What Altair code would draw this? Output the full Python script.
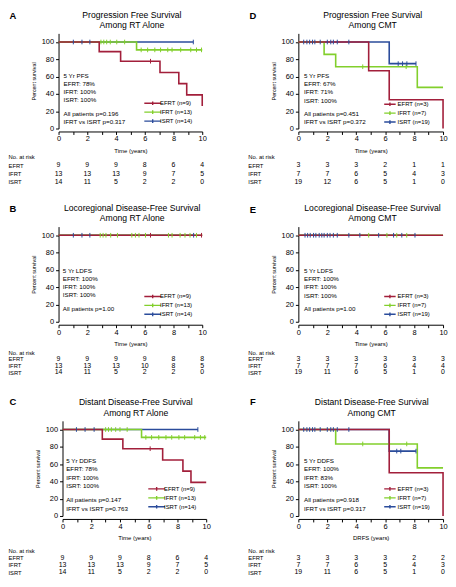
import altair as alt
import pandas as pd

RED, GREEN, BLUE = "#a21f3b", "#82cf2c", "#2b4c9b"
SANS = "Liberation Sans, Arial, sans-serif"

GROUPS = ["EFRT", "IFRT", "ISRT"]
RISK_TIMES = [0, 2, 4, 6, 8, 10]
ROWS = ["No. at risk", "EFRT", "IFRT", "ISRT"]
LEFT_LABELS = ["EFRT (n=9)", "IFRT (n=13)", "ISRT (n=14)"]
RIGHT_LABELS = ["EFRT (n=3)", "IFRT (n=7)", "ISRT (n=19)"]

# ---------------- Panel A: PFS, RT alone ----------------
A_EFRT_T = [0, 2.83, 4.32, 7.06, 8.37, 8.92, 10.0]
A_EFRT_S = [100, 88.9, 77.8, 64.8, 51.9, 38.9, 25.9]
A_IFRT_T = [0, 5.43, 10.0]
A_IFRT_S = [100, 90.9, 90.9]
A_ISRT_T = [0, 9.38]
A_ISRT_S = [100, 100]
A_EFRT_CENS = [6.4]
A_IFRT_CENS = [2.95, 3.15, 3.35, 3.6, 4.05, 4.6, 5.75, 6.2, 6.7, 7.1, 7.6, 7.9, 8.5, 9.2, 9.6, 9.95]
A_ISRT_CENS = [1.03, 1.63, 2.18, 9.38]
A_RISK = {"EFRT": [9, 9, 9, 8, 6, 4], "IFRT": [13, 13, 13, 9, 7, 5], "ISRT": [14, 11, 5, 2, 2, 0]}
A_TEXT = ["5 Yr PFS", "EFRT: 78%", "IFRT: 100%", "ISRT: 100%"]
A_P = ["All patients p=0.196", "IFRT vs ISRT p=0.317"]

# ---------------- Panel B: LDFS, RT alone ----------------
B_EFRT_T = [0, 10.0]
B_EFRT_S = [100, 100]
B_IFRT_T = [0, 10.0]
B_IFRT_S = [100, 100]
B_ISRT_T = [0, 9.4]
B_ISRT_S = [100, 100]
B_EFRT_CENS = [6.4, 9.95]
B_IFRT_CENS = [2.9, 3.1, 3.3, 3.63, 4.1, 5.1, 5.35, 5.6, 6.05, 7.65, 7.9, 8.46, 8.8, 9.15, 9.6]
B_ISRT_CENS = [1.03, 1.63, 2.18, 9.4]
B_RISK = {"EFRT": [9, 9, 9, 9, 8, 8], "IFRT": [13, 13, 13, 10, 8, 5], "ISRT": [14, 11, 5, 2, 2, 0]}
B_TEXT = ["5 Yr LDFS", "EFRT: 100%", "IFRT: 100%", "ISRT: 100%"]
B_P = ["All patients p=1.00"]

# ---------------- Panel C: DDFS, RT alone ----------------
C_EFRT_T = [0, 2.77, 4.2, 6.97, 8.38, 8.94, 10.0]
C_EFRT_S = [100, 88.9, 77.8, 64.8, 51.9, 38.9, 38.9]
C_IFRT_T = [0, 5.5, 10.0]
C_IFRT_S = [100, 90.9, 90.9]
C_ISRT_T = [0, 9.42]
C_ISRT_S = [100, 100]
C_EFRT_CENS = [6.1]
C_IFRT_CENS = [3.0, 3.2, 3.4, 3.7, 4.0, 4.5, 5.8, 6.2, 6.7, 7.2, 7.6, 8.1, 8.5, 9.2, 9.6, 9.9]
C_ISRT_CENS = [0.97, 1.57, 2.2, 9.42]
C_RISK = {"EFRT": [9, 9, 9, 8, 6, 4], "IFRT": [13, 13, 13, 9, 7, 5], "ISRT": [14, 11, 5, 2, 2, 0]}
C_TEXT = ["5 Yr DDFS", "EFRT: 78%", "IFRT: 100%", "ISRT: 100%"]
C_P = ["All patients p=0.147", "IFRT vs ISRT p=0.763"]

# ---------------- Panel D: PFS, CMT ----------------
D_EFRT_T = [0, 4.86, 6.28, 10.0]
D_EFRT_S = [100, 66.7, 33.3, 0]
D_IFRT_T = [0, 1.78, 2.58, 8.22, 10.0]
D_IFRT_S = [100, 85.7, 71.4, 47.6, 47.6]
D_ISRT_T = [0, 6.28, 8.13]
D_ISRT_S = [100, 75, 75]
D_EFRT_CENS = []
D_IFRT_CENS = [4.45, 7.45]
D_ISRT_CENS = [0.37, 0.59, 0.78, 0.98, 1.14, 1.51, 2.0, 2.24, 2.42, 2.69, 3.49, 6.9, 7.2, 7.5, 8.13]
D_RISK = {"EFRT": [3, 3, 3, 2, 1, 1], "IFRT": [7, 7, 6, 5, 4, 3], "ISRT": [19, 12, 6, 5, 1, 0]}
D_TEXT = ["5 Yr PFS", "EFRT: 67%", "IFRT: 71%", "ISRT: 100%"]
D_P = ["All patients p=0.451", "IFRT vs ISRT p=0.372"]

# ---------------- Panel E: LDFS, CMT ----------------
E_EFRT_T = [0, 10.0]
E_EFRT_S = [100, 100]
E_IFRT_T = [0, 10.0]
E_IFRT_S = [100, 100]
E_ISRT_T = [0, 8.1]
E_ISRT_S = [100, 100]
E_EFRT_CENS = []
E_IFRT_CENS = [4.86, 6.12, 6.8, 7.49]
E_ISRT_CENS = [0.46, 0.64, 0.82, 1.05, 1.21, 1.44, 1.62, 1.78, 2.0, 2.19, 2.42, 2.69, 3.49, 4.25, 5.55, 6.58, 7.15, 8.06]
E_RISK = {"EFRT": [3, 3, 3, 3, 3, 3], "IFRT": [7, 7, 7, 6, 4, 4], "ISRT": [19, 11, 6, 5, 1, 0]}
E_TEXT = ["5 Yr LDFS", "EFRT: 100%", "IFRT: 100%", "ISRT: 100%"]
E_P = ["All patients p=1.00"]

# ---------------- Panel F: DDFS, CMT ----------------
F_EFRT_T = [0, 6.28, 10.0]
F_EFRT_S = [100, 50, 0]
F_IFRT_T = [0, 2.58, 8.22, 10.0]
F_IFRT_S = [100, 83.3, 55.6, 55.6]
F_ISRT_T = [0, 6.28, 8.13]
F_ISRT_S = [100, 75, 75]
F_EFRT_CENS = []
F_IFRT_CENS = [4.45, 7.49]
F_ISRT_CENS = [0.37, 0.59, 0.78, 0.98, 1.14, 1.51, 2.0, 2.24, 2.42, 2.69, 3.49, 6.8, 7.08, 8.13]
F_RISK = {"EFRT": [3, 3, 3, 3, 2, 2], "IFRT": [7, 7, 6, 5, 4, 3], "ISRT": [19, 11, 6, 5, 1, 0]}
F_TEXT = ["5 Yr DDFS", "EFRT: 100%", "IFRT: 83%", "ISRT: 100%"]
F_P = ["All patients p=0.918", "IFRT vs ISRT p=0.317"]

PANELS = {
    "A": dict(title=["Progression Free Survival", "Among RT Alone"], xtitle="Time (years)",
              curves={"EFRT": (A_EFRT_T, A_EFRT_S), "IFRT": (A_IFRT_T, A_IFRT_S), "ISRT": (A_ISRT_T, A_ISRT_S)},
              cens={"EFRT": A_EFRT_CENS, "IFRT": A_IFRT_CENS, "ISRT": A_ISRT_CENS},
              risk=A_RISK, text=A_TEXT, p=A_P),
    "B": dict(title=["Locoregional Disease-Free Survival", "Among RT Alone"], xtitle="Time (years)",
              curves={"EFRT": (B_EFRT_T, B_EFRT_S), "IFRT": (B_IFRT_T, B_IFRT_S), "ISRT": (B_ISRT_T, B_ISRT_S)},
              cens={"EFRT": B_EFRT_CENS, "IFRT": B_IFRT_CENS, "ISRT": B_ISRT_CENS},
              risk=B_RISK, text=B_TEXT, p=B_P),
    "C": dict(title=["Distant Disease-Free Survival", "Among RT Alone"], xtitle="Time (years)",
              curves={"EFRT": (C_EFRT_T, C_EFRT_S), "IFRT": (C_IFRT_T, C_IFRT_S), "ISRT": (C_ISRT_T, C_ISRT_S)},
              cens={"EFRT": C_EFRT_CENS, "IFRT": C_IFRT_CENS, "ISRT": C_ISRT_CENS},
              risk=C_RISK, text=C_TEXT, p=C_P),
    "D": dict(title=["Progression Free Survival", "Among CMT"], xtitle="Time (years)",
              curves={"EFRT": (D_EFRT_T, D_EFRT_S), "IFRT": (D_IFRT_T, D_IFRT_S), "ISRT": (D_ISRT_T, D_ISRT_S)},
              cens={"EFRT": D_EFRT_CENS, "IFRT": D_IFRT_CENS, "ISRT": D_ISRT_CENS},
              risk=D_RISK, text=D_TEXT, p=D_P),
    "E": dict(title=["Locoregional Disease-Free Survival", "Among CMT"], xtitle="Time (years)",
              curves={"EFRT": (E_EFRT_T, E_EFRT_S), "IFRT": (E_IFRT_T, E_IFRT_S), "ISRT": (E_ISRT_T, E_ISRT_S)},
              cens={"EFRT": E_EFRT_CENS, "IFRT": E_IFRT_CENS, "ISRT": E_ISRT_CENS},
              risk=E_RISK, text=E_TEXT, p=E_P),
    "F": dict(title=["Distant Disease-Free Survival", "Among CMT"], xtitle="DRFS (years)",
              curves={"EFRT": (F_EFRT_T, F_EFRT_S), "IFRT": (F_IFRT_T, F_IFRT_S), "ISRT": (F_ISRT_T, F_ISRT_S)},
              cens={"EFRT": F_EFRT_CENS, "IFRT": F_IFRT_CENS, "ISRT": F_ISRT_CENS},
              risk=F_RISK, text=F_TEXT, p=F_P),
}

# layout (pixels, relative to each plot area's top-left corner)
LP = "M-2.74,0H2.74M0,-0.6V0.6"   # legend symbol, left column (long)
RP = "M-1.87,0H1.87M0,-0.6V0.6"   # legend symbol, right column (short)
LAYOUT = {
    "A": dict(xoff=0, W=149, PW=145, tc=74.0, ty=-18.7, letter=(-46, -17.3),
              txt=(5, 42.7, 8.2), pt=(5, 81.4, 8.0), leg=(91.0, 66.5), lo=3.4, path=LP),
    "B": dict(xoff=0, W=149, PW=145, tc=74.3, ty=-18.9, letter=(-46, -17.3),
              txt=(4.3, 44.4, 8.3), pt=(4.3, 82.7, 8.0), leg=(91.0, 66.5), lo=3.4, path=LP),
    "C": dict(xoff=4, W=149, PW=145, tc=78.0, ty=-18.7, letter=(-46, -18.7),
              txt=(7.7, 40.3, 8.5), pt=(7.7, 80.3, 8.3), leg=(95.0, 64.7), lo=3.4, path=LP),
    "D": dict(xoff=0, W=146, PW=146, tc=75.0, ty=-18.7, letter=(-46, -17.3),
              txt=(5.7, 42.7, 8.4), pt=(5.7, 81.4, 8.0), leg=(88.4, 67.5), lo=3.7, path=RP),
    "E": dict(xoff=0, W=146, PW=146, tc=74.8, ty=-18.9, letter=(-46, -16.6),
              txt=(5.7, 44.4, 8.4), pt=(5.7, 82.7, 8.0), leg=(88.4, 66.5), lo=3.7, path=RP),
    "F": dict(xoff=0, W=146, PW=146, tc=74.0, ty=-18.7, letter=(-46, -18.7),
              txt=(5.7, 40.3, 8.5), pt=(5.7, 80.3, 8.3), leg=(88.4, 64.7), lo=3.7, path=RP),
}
KM_H = 96
RISK_ROWS = {1: (28.7, 54.0, 98.6), 2: (30.6, 51.0, 99.7), 3: (35.0, 56.6, 62)}


def step_value(ts, ss, t):
    v = ss[0]
    for ti, si in zip(ts, ss):
        if ti <= t + 1e-9:
            v = si
    return v


def km_chart(key, labels):
    P, L = PANELS[key], LAYOUT[key]
    lab = dict(zip(GROUPS, labels))
    xs = alt.Scale(domain=[0, 10], range=[L["xoff"], L["xoff"] + L["PW"]], nice=False, zero=False)
    ys = alt.Scale(domain=[0, 110], nice=False)
    cs = alt.Scale(domain=labels, range=[RED, GREEN, BLUE])
    legend = alt.Legend(title=None, orient="none", legendX=L["leg"][0], legendY=L["leg"][1],
                        symbolType=L["path"], symbolSize=38, symbolStrokeWidth=1.4,
                        labelFont=SANS, labelFontSize=6.0, labelColor="black",
                        labelOffset=L["lo"], rowPadding=-1.7, padding=0)
    xax = alt.Axis(values=list(range(11)), labelExpr="datum.value % 2 === 0 ? datum.label : ''",
                   tickSize=3, labelPadding=0.5, offset=3, labelFont=SANS, labelFontSize=7.5,
                   labelOverlap=False, labelFlush=False, title=P["xtitle"], titleFont=SANS,
                   titleFontSize=6.0, titleFontWeight="normal", titlePadding=5, grid=False)
    yax = alt.Axis(values=[0, 20, 40, 60, 80, 100], tickSize=3, labelPadding=2, labelFont=SANS,
                   labelFontSize=7.5, title="Percent survival", titleFont=SANS, titleFontSize=5.4,
                   titleFontWeight="normal", titlePadding=5, offset=-L["xoff"], grid=False)
    X = alt.X("t:Q", scale=xs, axis=xax)
    Y = alt.Y("s:Q", scale=ys, axis=yax)
    C = alt.Color("label:N", scale=cs, legend=legend)
    layers = []
    for g in ["ISRT", "IFRT", "EFRT"]:
        ts, ss = P["curves"][g]
        df = pd.DataFrame({"t": ts, "s": ss, "label": lab[g]})
        layers.append(alt.Chart(df).mark_line(interpolate="step-after", strokeWidth=1.6)
                      .encode(x=X, y=Y, color=C))
    rows = []
    for g in GROUPS:
        ts, ss = P["curves"][g]
        for t in P["cens"][g]:
            rows.append({"t": t, "s": step_value(ts, ss, t), "label": lab[g]})
    cdf = pd.DataFrame(rows, columns=["t", "s", "label"])
    layers.append(alt.Chart(cdf).mark_point(shape="M0,-1V1", size=22, filled=False, strokeWidth=1, opacity=1)
                  .encode(x=X, y=Y, color=C))
    one = pd.DataFrame({"k": [0]})
    tx, ty, tl = L["txt"]
    layers.append(alt.Chart(one).mark_text(align="left", baseline="middle", font=SANS, fontSize=6.3,
                                           lineHeight=tl, color="black")
                  .encode(x=alt.value(tx), y=alt.value(ty), text=alt.value(P["text"])))
    px, py, pl = L["pt"]
    layers.append(alt.Chart(one).mark_text(align="left", baseline="middle", font=SANS, fontSize=6.3,
                                           lineHeight=pl, color="black")
                  .encode(x=alt.value(px), y=alt.value(py), text=alt.value(P["p"])))
    lx, ly = L["letter"]
    layers.append(alt.Chart(one).mark_text(align="center", baseline="middle", font=SANS, fontSize=9.5,
                                           fontWeight="bold", color="black")
                  .encode(x=alt.value(lx), y=alt.value(ly), text=alt.value(key)))
    layers.append(alt.Chart(one).mark_text(align="center", baseline="middle", font=SANS, fontSize=8.7,
                                           lineHeight=10.6, color="black")
                  .encode(x=alt.value(L["tc"]), y=alt.value(L["ty"]), text=alt.value(P["title"])))
    return alt.layer(*layers).properties(width=L["W"], height=KM_H)


def risk_chart(key, row):
    P, L = PANELS[key], LAYOUT[key]
    r0, r1, h = RISK_ROWS[row]
    recs = []
    for i, g in enumerate(GROUPS):
        for t, n in zip(RISK_TIMES, P["risk"][g]):
            recs.append({"t": t, "ri": i + 1, "n": n})
    df = pd.DataFrame(recs)
    xs = alt.Scale(domain=[0, 10], range=[L["xoff"], L["xoff"] + L["PW"]], nice=False, zero=False)
    ys = alt.Scale(domain=[0, 3], range=[r0, r1], nice=False, zero=False)
    names = "[" + ",".join("'" + r + "'" for r in ROWS) + "]"
    return alt.Chart(df).mark_text(font=SANS, fontSize=7, baseline="middle", color="black").encode(
        x=alt.X("t:Q", scale=xs, axis=None),
        y=alt.Y("ri:Q", scale=ys,
                axis=alt.Axis(title=None, values=[0, 1, 2, 3], labelExpr=names + "[datum.value]",
                              domain=False, ticks=False, tickSize=0, grid=False, labelAlign="left",
                              labelBaseline="middle", labelPadding=51, labelFont=SANS, labelFontSize=5.9,
                              labelColor="black", labelOverlap=False, labelFlush=False)),
        text="n:Q",
    ).properties(width=L["W"], height=h)


cells = [
    km_chart("A", LEFT_LABELS), km_chart("D", RIGHT_LABELS),
    risk_chart("A", 1), risk_chart("D", 1),
    km_chart("B", LEFT_LABELS), km_chart("E", RIGHT_LABELS),
    risk_chart("B", 2), risk_chart("E", 2),
    km_chart("C", LEFT_LABELS), km_chart("F", RIGHT_LABELS),
    risk_chart("C", 3), risk_chart("F", 3),
]

chart = alt.concat(*cells, columns=2, spacing={"row": 0, "column": 93}, bounds="flush").resolve_scale(
    color="independent", x="independent", y="independent"
).properties(padding=0).configure_view(stroke=None).configure_axis(
    domainColor="black", tickColor="black", labelColor="black", titleColor="black"
)

chart.save("out.html", embed_options={"renderer": "svg", "actions": False})
